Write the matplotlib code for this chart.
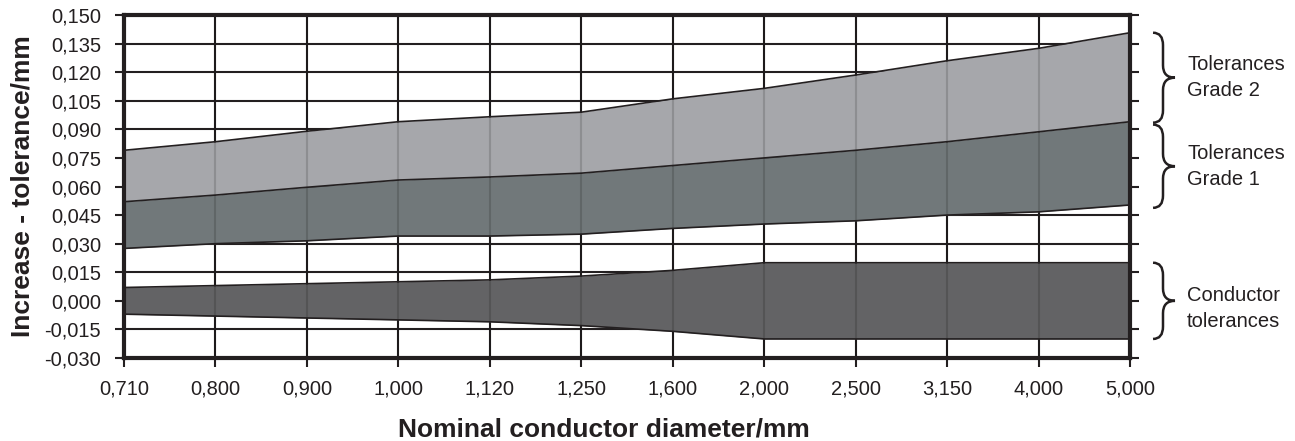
import matplotlib
matplotlib.use("Agg")
import matplotlib.pyplot as plt
import numpy as np
from matplotlib.path import Path
from matplotlib.patches import PathPatch
from matplotlib.transforms import blended_transform_factory

plt.rcParams['font.family'] = ['Liberation Sans', 'DejaVu Sans']

# nominal conductor diameters (categorical axis)
diameters = ['0,710', '0,800', '0,900', '1,000', '1,120', '1,250',
             '1,600', '2,000', '2,500', '3,150', '4,000', '5,000']

# upper limit of grade 2 band
grade2_hi = [0.079, 0.0835, 0.089, 0.094, 0.0966, 0.099,
             0.106, 0.1115, 0.1185, 0.126, 0.1325, 0.1407]
# boundary grade 1 / grade 2
grade1_hi = [0.052, 0.0555, 0.0596, 0.0634, 0.065, 0.067,
             0.071, 0.075, 0.079, 0.0835, 0.0887, 0.094]
# lower limit of grade 1 band
grade1_lo = [0.0275, 0.030, 0.0315, 0.034, 0.034, 0.035,
             0.038, 0.0403, 0.042, 0.045, 0.0467, 0.0503]
# conductor tolerances (+/-)
cond_hi = [0.007, 0.008, 0.009, 0.010, 0.011, 0.013,
           0.016, 0.020, 0.020, 0.020, 0.020, 0.020]
cond_lo = [-0.007, -0.008, -0.009, -0.010, -0.011, -0.013,
           -0.016, -0.020, -0.020, -0.020, -0.020, -0.020]

yticks = np.linspace(-0.03, 0.15, 13)

INK = '#231f20'
C_G2 = '#a6a7ab'
C_G1 = '#71787a'
C_COND = '#636365'

fig = plt.figure(figsize=(12.95, 4.41), dpi=100)
ax = fig.add_axes([124 / 1295, 1 - 358 / 441, (1130 - 124) / 1295, (358 - 15) / 441])

x = np.arange(len(diameters))
ax.set_xlim(x[0], x[-1])
ax.set_ylim(-0.03, 0.15)

# grid under the bands
for xv in x:
    ax.axvline(xv, color=INK, lw=1.5, zorder=1)
for yv in yticks:
    ax.axhline(yv, color=INK, lw=1.5, zorder=1)

ax.fill_between(x, grade1_hi, grade2_hi, color=C_G2, lw=0, zorder=2)
ax.fill_between(x, grade1_lo, grade1_hi, color=C_G1, lw=0, zorder=2)
ax.fill_between(x, cond_lo, cond_hi, color=C_COND, lw=0, zorder=2)
for ys in (grade2_hi, grade1_hi, grade1_lo, cond_hi, cond_lo):
    ax.plot(x, ys, color=INK, lw=1.2, zorder=4)

# vertical grid faintly shows through the bands
for xv in x:
    ax.axvline(xv, color='black', lw=1.5, alpha=0.15, zorder=3)

ax.set_xticks(x)
ax.set_xticklabels(diameters)
ax.set_yticks(yticks)
ax.set_yticklabels([f"{round(v, 3) + 0.0:.3f}".replace('.', ',') for v in yticks])
ax.tick_params(axis='both', direction='out', length=6.5, width=1.5,
               color=INK, labelsize=14.5, labelcolor=INK)
ax.tick_params(axis='y', right=True, pad=10)
ax.tick_params(axis='x', pad=9)
for sp in ax.spines.values():
    sp.set_linewidth(3)
    sp.set_color(INK)
    sp.set_zorder(5)

ax.set_xlabel('Nominal conductor diameter/mm', fontsize=19,
              fontweight='bold', color=INK, va='baseline')
ax.xaxis.set_label_coords(0.477, -0.2303)
ax.set_ylabel('Increase - tolerance/mm', fontsize=19,
              fontweight='bold', color=INK)
ax.yaxis.set_label_coords(-0.089, 0.5)

# braces with labels on the right
trans = blended_transform_factory(ax.transAxes, ax.transData)


def brace(y_top, y_bot, text, dy=0.0):
    x0, xm, xt = 1.0229, 1.0328, 1.0447
    r = 0.0065
    ymid = (y_top + y_bot) / 2
    verts = [(x0, y_top), (xm, y_top), (xm, y_top - r),
             (xm, ymid + r), (xm, ymid), (xt, ymid),
             (xm, ymid), (xm, ymid - r),
             (xm, y_bot + r), (xm, y_bot), (x0, y_bot)]
    codes = [Path.MOVETO, Path.CURVE3, Path.CURVE3,
             Path.LINETO, Path.CURVE3, Path.CURVE3,
             Path.CURVE3, Path.CURVE3,
             Path.LINETO, Path.CURVE3, Path.CURVE3]
    ax.add_patch(PathPatch(Path(verts, codes), transform=trans, fill=False,
                           lw=1.8, edgecolor=INK, clip_on=False))
    ax.text(1.0567, ymid + dy, text, transform=trans, ha='left', va='center',
            fontsize=14.5, color=INK, linespacing=1.45)


brace(grade2_hi[-1], grade1_hi[-1] - 0.0005, 'Tolerances\nGrade 2')
brace(grade1_hi[-1] - 0.0015, grade1_lo[-1] - 0.0015, 'Tolerances\nGrade 1')
brace(cond_hi[-1], cond_lo[-1], 'Conductor\ntolerances', dy=-0.004)

fig.savefig('out.png', dpi=100)
plt.close(fig)
